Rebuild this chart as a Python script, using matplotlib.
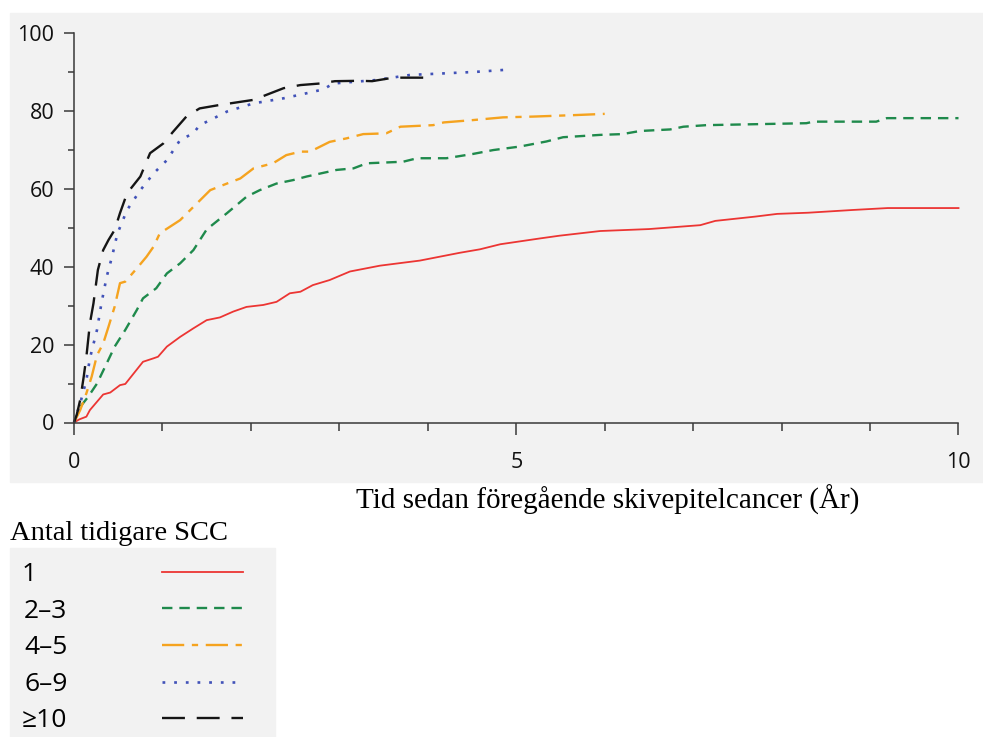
import matplotlib.pyplot as plt
from matplotlib.patches import Rectangle
from matplotlib.ticker import MultipleLocator

plt.rcParams['lines.scale_dashes'] = False

# cumulative incidence (%) vs years since previous SCC
x_1 = [0, 0.06, 0.14, 0.18, 0.33, 0.41, 0.52, 0.58, 0.78, 0.9, 0.95, 1.05, 1.2,
       1.35, 1.5, 1.65, 1.8, 1.95, 2.14, 2.29, 2.44, 2.56, 2.7, 2.89, 3.12, 3.46,
       3.91, 4.36, 4.59, 4.82, 5.27, 5.49, 5.95, 6.5, 7.08, 7.25, 7.7, 7.95, 8.3,
       8.8, 9.2, 10.0]
y_1 = [0, 0.8, 1.5, 3.2, 7.2, 7.7, 9.6, 9.9, 15.6, 16.5, 16.9, 19.5, 22.0,
       24.2, 26.3, 27.0, 28.5, 29.7, 30.2, 31.0, 33.2, 33.6, 35.3, 36.6, 38.8, 40.3,
       41.6, 43.6, 44.5, 45.8, 47.3, 48.0, 49.2, 49.7, 50.7, 51.8, 52.9, 53.6, 53.9,
       54.6, 55.1, 55.1]

x_2_3 = [0, 0.07, 0.16, 0.26, 0.37, 0.46, 0.58, 0.71, 0.78, 0.93, 1.05, 1.2, 1.35,
         1.5, 1.73, 1.95, 2.1, 2.29, 2.48, 2.63, 2.97, 3.16, 3.31, 3.72, 3.88, 4.21,
         4.51, 4.74, 5.04, 5.34, 5.53, 5.95, 6.2, 6.4, 6.74, 6.89, 7.15, 8.28, 8.36,
         9.07, 9.19, 10.0]
y_2_3 = [0, 4.0, 6.6, 10.0, 15.2, 19.5, 23.8, 28.9, 31.9, 34.5, 38.3, 40.9, 44.3,
         49.6, 53.8, 58.0, 59.7, 61.4, 62.3, 63.2, 64.9, 65.3, 66.6, 67.0, 67.9, 67.9,
         69.0, 70.0, 70.9, 72.2, 73.3, 73.9, 74.1, 74.9, 75.3, 76.0, 76.4, 76.9, 77.3,
         77.3, 78.2, 78.2]

x_4_5 = [0, 0.07, 0.14, 0.2, 0.26, 0.33, 0.39, 0.46, 0.52, 0.58, 0.71, 0.82, 0.9,
         0.97, 1.2, 1.35, 1.54, 1.73, 1.88, 2.03, 2.25, 2.4, 2.56, 2.67, 2.89, 3.08,
         3.27, 3.53, 3.69, 4.06, 4.18, 4.51, 4.85, 5.19, 5.68, 6.0]
y_4_5 = [0, 3.2, 7.5, 11.8, 17.3, 20.3, 24.6, 29.8, 35.8, 36.2, 39.6, 42.6, 45.2,
         48.6, 52.0, 55.4, 59.7, 61.4, 62.7, 65.3, 66.6, 68.7, 69.6, 69.6, 72.1, 73.0,
         74.1, 74.3, 76.0, 76.4, 77.1, 77.7, 78.4, 78.6, 79.0, 79.3]

x_6_9 = [0, 0.07, 0.14, 0.18, 0.26, 0.31, 0.37, 0.43, 0.49, 0.6, 0.75, 0.9, 1.05,
         1.2, 1.35, 1.42, 1.54, 1.73, 2.03, 2.37, 2.63, 2.82, 2.93, 3.42, 3.8, 4.18,
         4.55, 4.93]
y_6_9 = [0, 4.9, 10.9, 16.5, 23.8, 30.6, 37.5, 42.6, 48.5, 54.6, 59.7, 64.0, 67.4,
         72.6, 74.3, 76.4, 77.7, 79.9, 82.0, 83.3, 84.6, 85.6, 87.1, 88.0, 89.3, 89.7,
         90.1, 90.7]

x_10 = [0, 0.03, 0.07, 0.11, 0.14, 0.18, 0.22, 0.27, 0.33, 0.39, 0.46, 0.52, 0.6,
        0.75, 0.86, 1.01, 1.12, 1.27, 1.42, 1.65, 2.03, 2.37, 2.56, 2.78, 2.95, 3.23,
        3.37, 3.61, 4.01]
y_10 = [0, 1.9, 5.8, 11.8, 16.9, 25.5, 30.6, 39.2, 44.3, 46.9, 49.5, 53.8, 58.9,
        63.2, 69.2, 71.7, 74.7, 78.6, 80.7, 81.6, 82.9, 85.9, 86.7, 87.1, 87.7, 87.8,
        87.7, 88.6, 88.6]

groups = ['1', '2\u20133', '4\u20135', '6\u20139', '\u226510']
colors = ['#ec3533', '#1f8a4c', '#f5a31f', '#4152b8', '#151515']
dash_styles = [None, (7.5, 5), (16, 5.5, 4.5, 5.5), (2, 6.4), (16.5, 8.5)]
widths = [1.3, 1.7, 1.7, 1.9, 1.7]
series = [(x_1, y_1), (x_2_3, y_2_3), (x_4_5, y_4_5), (x_6_9, y_6_9), (x_10, y_10)]

fig = plt.figure(figsize=(9.83, 7.37), dpi=100)
W, H = 983, 737

# grey panels behind the plot and the legend
fig.patches.append(Rectangle((10 / W, 1 - 482 / H), 973 / W, 469 / H,
                             transform=fig.transFigure, color='#f2f2f2', zorder=-1))
fig.patches.append(Rectangle((10 / W, 0), 265 / W, 1 - 548 / H,
                             transform=fig.transFigure, color='#f2f2f2', zorder=-1))

ax = fig.add_axes([74 / W, 1 - 422.5 / H, 884.5 / W, 389.2 / H])
ax.set_facecolor('none')

handles = []
for (xs, ys), c, d, lw in zip(series, colors, dash_styles, widths):
    line, = ax.plot(xs, ys, color=c, lw=lw, clip_on=False)
    if d is not None:
        line.set_dashes(d)
    handles.append(line)

ax.set_xlim(0, 10)
ax.set_ylim(0, 100)
ax.xaxis.set_major_locator(MultipleLocator(5))
ax.xaxis.set_minor_locator(MultipleLocator(1))
ax.yaxis.set_major_locator(MultipleLocator(20))
ax.yaxis.set_minor_locator(MultipleLocator(10))
for s in ['top', 'right']:
    ax.spines[s].set_visible(False)
for s in ['left', 'bottom']:
    ax.spines[s].set_color('#3a3a3a')
    ax.spines[s].set_linewidth(1.1)

tick_font = ['Open Sans', 'DejaVu Sans']
ax.tick_params(axis='y', which='major', length=7.2, width=1.1, color='#3a3a3a', pad=7)
ax.tick_params(axis='y', which='minor', length=4.3, width=1.1, color='#3a3a3a')
ax.tick_params(axis='x', which='major', length=8.6, width=1.1, color='#3a3a3a', pad=13)
ax.tick_params(axis='x', which='minor', length=5.4, width=1.1, color='#3a3a3a')
for lab in ax.get_xticklabels() + ax.get_yticklabels():
    lab.set_family(tick_font)
    lab.set_fontsize(15.5)
    lab.set_color('#111111')

fig.text(608 / W, 1 - 500 / H, 'Tid sedan föregående skivepitelcancer (År)',
         family='Liberation Serif', fontsize=21, ha='center', va='center')
fig.text(10 / W, 1 - 534 / H, 'Antal tidigare SCC',
         family='Liberation Serif', fontsize=20.5, ha='left', va='center')

# pad labels with figure spaces so the label column lines up on the left
labels = [groups[0] + '\u2007\u2007'] + groups[1:]
leg = fig.legend(handles, labels, loc='upper left',
                 bbox_to_anchor=(22 / W, 1 - 562 / H), bbox_transform=fig.transFigure,
                 frameon=False, markerfirst=False, borderpad=0, borderaxespad=0,
                 handlelength=3.05, handletextpad=3.6, labelspacing=0.44,
                 prop={'family': tick_font, 'size': 19})

fig.savefig('out.png', dpi=100)
